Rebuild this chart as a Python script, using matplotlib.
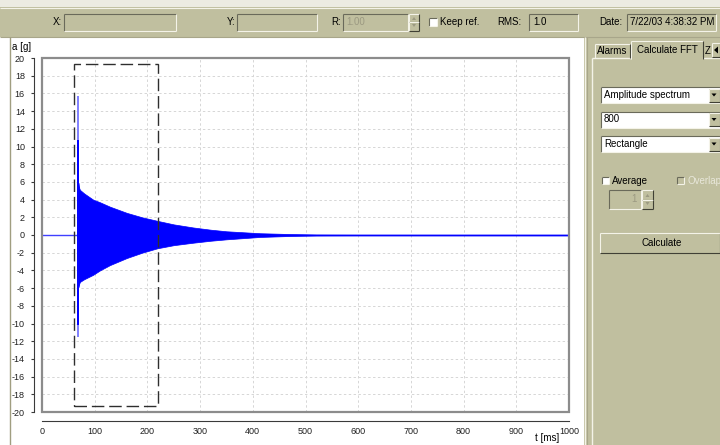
import matplotlib
matplotlib.use("Agg")
import matplotlib.pyplot as plt
from matplotlib.patches import Rectangle, Polygon

plt.rcParams['font.family'] = ['Liberation Sans', 'DejaVu Sans']
plt.rcParams['axes.unicode_minus'] = False

# ---------------- data ----------------
x_ticks = list(range(0, 1001, 100))
y_ticks = list(range(-20, 21, 2))

# decaying oscillation envelope, t in ms, a in g
env_t = [69, 70, 72, 80, 97, 110, 129, 161, 190, 219, 250, 287, 320, 350, 414, 477, 520, 600, 1000]
env_upper = [5.9, 5.4, 5.1, 4.7, 4.0, 3.7, 3.2, 2.5, 2.0, 1.6, 1.2, 0.85, 0.6, 0.42, 0.2, 0.1, 0.06, 0.05, 0.05]
env_lower = [-5.9, -5.6, -5.3, -5.0, -4.5, -4.0, -3.4, -2.6, -2.0, -1.5, -1.15, -0.87, -0.65, -0.49, -0.22, -0.1, -0.06, -0.05, -0.05]

baseline_t = [0, 1000]
baseline_a = [0, 0]

spike_t = 68
spike_outer = [-11.5, 15.7]
spike_inner = [-10.2, 10.7]

sel_t = [60, 220]
sel_a = [-19.3, 19.3]

toolbar_labels = ["X:", "Y:", "R:", "Keep ref.", "RMS:", "Date:"]
toolbar_values = ["", "", "1.00", "", "1.0", "7/22/03 4:38:32 PM"]
tab_names = ["Alarms", "Calculate FFT", "Z"]
combo_values = ["Amplitude spectrum", "800", "Rectangle"]

# ---------------- figure ----------------
W, H = 720, 445
fig = plt.figure(figsize=(W / 100, H / 100), dpi=100)
fig.patch.set_facecolor('white')

ui = fig.add_axes([0, 0, 1, 1], zorder=0)
ui.set_xlim(0, W)
ui.set_ylim(H, 0)
ui.axis('off')

KHAKI = '#c0bf9f'
DARK = '#7c7b66'
LIGHT = '#f4f3e8'
UIFS = 7


def rect(x0, y0, x1, y1, fc, ec='none', lw=0.8, z=1):
    ui.add_patch(Rectangle((x0, y0), x1 - x0, y1 - y0, fc=fc, ec=ec, lw=lw, zorder=z))


def hline(x0, x1, y, c, lw=0.8, z=3):
    ui.plot([x0, x1], [y, y], color=c, lw=lw, zorder=z, solid_capstyle='butt')


def vline(x, y0, y1, c, lw=0.8, z=3):
    ui.plot([x, x], [y0, y1], color=c, lw=lw, zorder=z, solid_capstyle='butt')


def sunken(x0, y0, x1, y1, fc):
    rect(x0, y0, x1, y1, fc)
    hline(x0, x1, y0, '#6a6a5a')
    vline(x0, y0, y1, '#6a6a5a')
    hline(x0, x1, y1, LIGHT)
    vline(x1, y0, y1, LIGHT)


def raised(x0, y0, x1, y1, fc, bottom=True):
    rect(x0, y0, x1, y1, fc)
    hline(x0, x1, y0, LIGHT)
    vline(x0, y0, y1, LIGHT)
    vline(x1, y0, y1, '#404035')
    if bottom:
        hline(x0, x1, y1, '#404035')


def text(x, y, s, ha='left', color='black', fs=UIFS, z=4):
    ui.text(x, y, s, ha=ha, va='center', fontsize=fs, color=color, zorder=z)


# top toolbar
rect(0, 0, W, 7, '#ecebe2')
rect(0, 7, W, 37, KHAKI)
hline(0, W, 7.5, LIGHT)
hline(0, W, 36.5, '#a8a68a')

ty = 22
text(62, ty, toolbar_labels[0], ha='right')
sunken(64, 14, 176, 31, KHAKI)
text(235, ty, toolbar_labels[1], ha='right')
sunken(237, 14, 317, 31, KHAKI)
text(341, ty, toolbar_labels[2], ha='right')
sunken(343, 14, 408, 31, KHAKI)
text(346, ty, toolbar_values[2], color='#9c9a82')
raised(409, 14, 419, 22, KHAKI)
raised(409, 22, 419, 31, KHAKI)
ui.add_patch(Polygon([[412, 20], [416, 20], [414, 17]], fc='#9c9a82', ec='none', zorder=5))
ui.add_patch(Polygon([[412, 24], [416, 24], [414, 27]], fc='#9c9a82', ec='none', zorder=5))
sunken(429, 18, 437, 26, 'white')
text(440, ty, toolbar_labels[3])
text(497, ty, toolbar_labels[4])
sunken(529, 14, 578, 31, KHAKI)
text(533, ty, toolbar_values[4])
text(599, ty, toolbar_labels[5])
sunken(627, 14, 716, 31, KHAKI)
text(630, ty, toolbar_values[5])

# left border line of plot area
vline(10, 37, H, '#a09e80', lw=1.0)

# right panel
rect(584, 37, W, H, KHAKI)
vline(585, 37, H, LIGHT, lw=1.0)
vline(587, 37, H, '#a8a68a', lw=0.8)
# tab page
vline(592, 58, H, LIGHT, lw=1.0)
hline(592, W, 58, LIGHT, lw=1.0)
# tabs
raised(595, 44, 630, 58, KHAKI, bottom=False)
text(612.5, 51.5, tab_names[0], ha='center')
raised(631, 41, 703, 58.5, KHAKI, bottom=False)
rect(631.6, 57, 702.5, 59.5, KHAKI, z=4)
text(667, 50, tab_names[1], ha='center')
text(705, 51.5, tab_names[2])
raised(712, 43, 720, 57, KHAKI)
ui.add_patch(Polygon([[714, 50], [718, 46.5], [718, 53.5]], fc='black', ec='none', zorder=5))

# combos
for i, v in enumerate(combo_values):
    y0 = 87 + 24.5 * i
    sunken(601, y0, 720, y0 + 16, 'white')
    text(604, y0 + 8, v)
    raised(709, y0 + 1.5, 720, y0 + 14.5, KHAKI)
    ui.add_patch(Polygon([[711.5, y0 + 6.5], [716.5, y0 + 6.5], [714, y0 + 9.5]],
                         fc='black', ec='none', zorder=5))

# checkboxes
sunken(602, 177, 609, 184, 'white')
text(612, 181, "Average")
sunken(677, 177, 684, 184, KHAKI)
text(687, 181, "Overlap", color='#e8e7da')
# spinner (disabled)
sunken(609, 190, 641, 209, KHAKI)
text(637, 199.5, "1", ha='right', color='#9c9a82')
raised(642, 190, 653, 199.5, KHAKI)
raised(642, 199.5, 653, 209, KHAKI)
ui.add_patch(Polygon([[645.5, 197], [649.5, 197], [647.5, 194]], fc='#9c9a82', ec='none', zorder=5))
ui.add_patch(Polygon([[645.5, 202], [649.5, 202], [647.5, 205]], fc='#9c9a82', ec='none', zorder=5))
# button
raised(600, 233, 720, 253, KHAKI)
text(662, 242.5, "Calculate", ha='center')

# axis titles
text(12, 47, "a [g]", fs=7)
text(535, 438, "t [ms]", fs=7)

# ---------------- plot ----------------
ax = fig.add_axes([42 / W, (H - 412) / H, 527 / W, 354 / H], zorder=2)
ax.set_facecolor('none')
ax.set_xlim(0, 1000)
ax.set_ylim(-20, 20)
ax.set_xticks(x_ticks)
ax.set_yticks(y_ticks)
ax.set_xticks([0, 1000], minor=True)

ax.grid(True, color='#d6d6d6', linestyle=(0, (2.5, 2.5)), lw=0.7, zorder=0)

ax.plot(baseline_t, baseline_a, color='#4040ff', lw=1.0, zorder=2)
ax.fill_between(env_t, env_lower, env_upper, color='#0000ff', lw=0.5, zorder=3)
ax.vlines([spike_t], [spike_outer[0]], [spike_outer[1]], color='#8080ff', lw=1.4, zorder=3)
ax.vlines([spike_t], [spike_inner[0]], [spike_inner[1]], color='#0000ff', lw=1.4, zorder=4)

ax.add_patch(Rectangle((sel_t[0], sel_a[0]), sel_t[1] - sel_t[0], sel_a[1] - sel_a[0],
                       fill=False, ec='#2e2e2e', lw=1.0, linestyle=(0, (9, 3.5)), zorder=5))

ax.add_patch(Rectangle((0, 0), 1, 1, transform=ax.transAxes, fill=False,
                       ec='#8c8c8c', lw=1.6, zorder=6, clip_on=False))

for s in ('top', 'right'):
    ax.spines[s].set_visible(False)
ax.spines['left'].set_position(('outward', 5.8))
ax.spines['bottom'].set_position(('outward', 6.5))
for s in ('left', 'bottom'):
    ax.spines[s].set_color('#3a3a3a')
    ax.spines[s].set_linewidth(0.8)

ax.tick_params(axis='y', direction='out', length=2.2, width=0.8, pad=4.3,
               labelsize=6.5, color='#3a3a3a', labelcolor='#202020')
ax.tick_params(axis='x', which='major', length=0, pad=4.5,
               labelsize=6.5, labelcolor='#202020')
ax.tick_params(axis='x', which='minor', direction='inout', length=3, width=0.8, color='#3a3a3a')

fig.savefig('out.png', dpi=100)
